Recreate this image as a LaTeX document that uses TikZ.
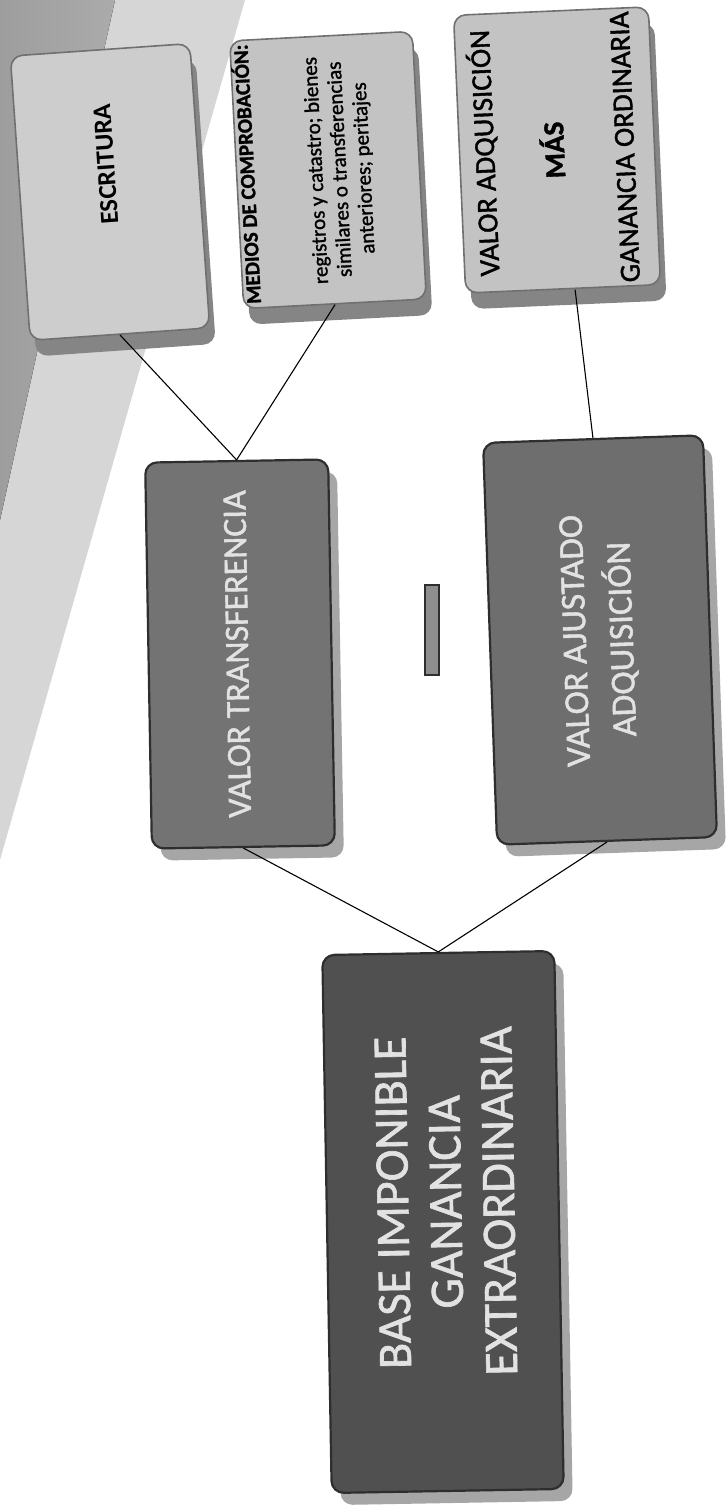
\documentclass[tikz,border=0pt]{standalone}
\usepackage{fontspec}
\setmainfont{Carlito}
\newfontfamily\heavy{Carlito}[FakeBold=1.3]
\usetikzlibrary{shadows,calc}
\definecolor{escfill}{HTML}{CDCDCD}
\definecolor{lightfill}{HTML}{C3C3C3}
\definecolor{lightedge}{HTML}{707070}
\definecolor{vtfill}{HTML}{737373}
\definecolor{vaafill}{HTML}{6E6E6E}
\definecolor{basefill}{HTML}{505050}
\definecolor{darkedge}{HTML}{2E2E2E}
\definecolor{lightshadow}{HTML}{858585}
\definecolor{darkshadow}{HTML}{A6A6A6}
\definecolor{darktext}{HTML}{E2E2E2}
\definecolor{bgdark}{HTML}{ABABAB}
\definecolor{bglight}{HTML}{D6D6D6}
\definecolor{minusfill}{HTML}{8E8E8E}
\newcommand{\vtxt}[4][0pt]{\rotatebox{90}{\fontsize{#2}{#3}\selectfont\begin{tabular}{@{\hspace{#1}}c@{}}#4\end{tabular}}}
\begin{document}
\begin{tikzpicture}[x=1pt,y=1pt,
  boxbase/.style={rectangle, rounded corners=12pt, inner sep=0pt, line width=1.6pt},
  lightbox/.style={boxbase, fill=lightfill, draw=lightedge, text=black,
    drop shadow={shadow xshift=6pt, shadow yshift=-16pt, fill=lightshadow, opacity=1}},
  darkbox/.style={boxbase, draw=darkedge, line width=2.2pt, text=darktext,
    drop shadow={shadow xshift=9pt, shadow yshift=-12pt, fill=darkshadow, opacity=1}},
  link/.style={draw=black, line width=1.1pt}]
\useasboundingbox (0,0) rectangle (726,1510);
\fill[bglight] (0,1510) -- (245,1510) -- (0,650) -- cycle;
\fill[left color=bgdark!92!black, right color=bgdark] (0,1510) -- (115,1510) -- (0,990) -- cycle;

\node[lightbox, fill=escfill, minimum width=180pt, minimum height=285pt, rotate=4] (esc) at (110,1318)
  {\vtxt[56pt]{26}{31}{\bfseries ESCRITURA}};
\node[lightbox, minimum width=172pt, minimum height=268pt, rotate=3] (med) at (328,1340)
  {\vtxt{21}{24}{\heavy\bfseries MEDIOS DE COMPROBACIÓN:\\[44pt] \heavy registros y catastro; bienes\\ \heavy similares o transferencias\\ \heavy anteriores; peritajes\\[42pt]}};
\node[lightbox, minimum width=195pt, minimum height=278pt, rotate=2.5] (vadq) at (557,1360)
  {\vtxt{29}{36}{\heavy VALOR ADQUISICIÓN\\[34pt] \heavy\bfseries MÁS\\[34pt] \heavy GANANCIA ORDINARIA}};

\node[darkbox, fill=vtfill, minimum width=183pt, minimum height=386pt, rotate=1] (vt) at (240,856)
  {\vtxt{34}{41}{\heavy VALOR TRANSFERENCIA}};
\node[darkbox, fill=vaafill, minimum width=220pt, minimum height=402pt, rotate=2] (vaa) at (600,870)
  {\vtxt{35}{47}{\heavy VALOR AJUSTADO\\ \heavy ADQUISICIÓN}};
\node[darkbox, fill=basefill, minimum width=232pt, minimum height=538pt, rotate=1] (base) at (443,288)
  {\rotatebox{90}{\raisebox{-8pt}[\height][\depth]{\fontsize{48}{53}\selectfont\begin{tabular}{@{\hspace{40pt}}c@{}}\heavy BASE IMPONIBLE\\ \heavy GANANCIA\\ \heavy EXTRAORDINARIA\end{tabular}}}};

\node[rectangle, fill=minusfill, draw=darkedge, line width=1.2pt, minimum width=14pt, minimum height=90pt, inner sep=0pt] (minus) at (432,880) {};

\draw[link] (esc.south) -- (vt.north);
\draw[link] (med.south) -- (vt.north);
\draw[link] ([xshift=12pt]vadq.south) -- (vaa.north);
\draw[link] (vt.south) -- (base.north);
\draw[link] (vaa.south) -- (base.north);
\end{tikzpicture}
\end{document}
